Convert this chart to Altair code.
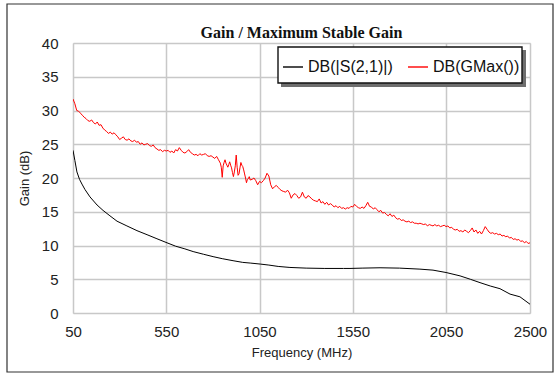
import altair as alt
import pandas as pd

# DB(|S(2,1)|) trace
s21_freq = [50, 60, 71, 85, 98, 114, 141, 179, 211, 248, 286, 339, 393, 447, 500,
            554, 600, 650, 694, 750, 801, 850, 908, 960, 1000, 1054, 1100, 1150,
            1213, 1300, 1400, 1500, 1535, 1600, 1696, 1800, 1910, 1980, 2050, 2125,
            2180, 2232, 2287, 2339, 2393, 2446, 2500]
s21_db = [24.1, 22.6, 20.9, 19.8, 19.1, 18.3, 17.2, 16.0, 15.2, 14.4, 13.6, 12.9,
          12.2, 11.6, 11.0, 10.4, 9.9, 9.5, 9.1, 8.7, 8.35, 8.05, 7.75, 7.5, 7.4,
          7.25, 7.1, 6.9, 6.75, 6.65, 6.6, 6.6, 6.6, 6.65, 6.7, 6.65, 6.5, 6.35,
          6.0, 5.5, 5.0, 4.5, 4.0, 3.6, 2.8, 2.4, 1.3]

# DB(GMax()) trace
gmax_freq = [50, 60, 70, 80, 90, 100, 110, 120, 130, 140, 150, 160, 170, 180, 190,
             200, 210, 220, 230, 240, 250, 260, 270, 280, 290, 300, 310, 320, 330,
             340, 350, 360, 370, 380, 390, 400, 410, 420, 430, 440, 450, 460, 470,
             480, 490, 500, 510, 520, 530, 540, 550, 560, 570, 580, 590, 600, 610,
             620, 630, 640, 650, 660, 670, 680, 690, 700, 710, 720, 730, 740, 750,
             760, 770, 780, 790, 800, 810, 820, 830, 840, 845, 850, 855, 860, 865,
             870, 875, 880, 885, 890, 895, 900, 905, 910, 915, 920, 925, 930, 935,
             940, 945, 950, 955, 960, 965, 970, 975, 980, 985, 990, 995, 1000, 1010,
             1020, 1030, 1040, 1050, 1060, 1070, 1080, 1090, 1100, 1110, 1120, 1130,
             1140, 1150, 1160, 1170, 1180, 1190, 1200, 1210, 1220, 1230, 1240, 1250,
             1260, 1270, 1280, 1290, 1300, 1310, 1320, 1330, 1340, 1350, 1360, 1370,
             1380, 1390, 1400, 1410, 1420, 1430, 1440, 1450, 1460, 1470, 1480, 1490,
             1500, 1510, 1520, 1530, 1540, 1550, 1560, 1570, 1580, 1590, 1600, 1610,
             1620, 1630, 1640, 1650, 1660, 1670, 1680, 1690, 1700, 1710, 1720, 1730,
             1740, 1750, 1760, 1770, 1780, 1790, 1800, 1810, 1820, 1830, 1840, 1850,
             1860, 1870, 1880, 1890, 1900, 1910, 1920, 1930, 1940, 1950, 1960, 1970,
             1980, 1990, 2000, 2010, 2020, 2030, 2040, 2050, 2060, 2070, 2080, 2090,
             2100, 2110, 2120, 2130, 2140, 2150, 2160, 2170, 2180, 2190, 2200, 2210,
             2220, 2230, 2240, 2250, 2260, 2270, 2280, 2290, 2300, 2310, 2320, 2330,
             2340, 2350, 2360, 2370, 2380, 2390, 2400, 2410, 2420, 2430, 2440, 2450,
             2460, 2470, 2480, 2490, 2500]
gmax_db = [31.7, 31.0, 30.0, 29.9, 29.6, 29.3, 29.0, 28.8, 28.5, 28.4, 28.6, 28.2,
           28.0, 28.3, 27.8, 27.9, 27.4, 27.1, 26.9, 26.6, 26.8, 26.5, 26.7, 26.4,
           26.1, 25.7, 25.9, 26.1, 25.7, 25.6, 25.8, 25.5, 25.4, 25.6, 25.3, 25.4,
           25.0, 25.2, 24.9, 25.0, 25.1, 24.8, 24.7, 24.9, 24.5, 24.3, 24.1, 24.2,
           23.9, 24.1, 24.0, 24.1, 23.8, 24.0, 23.7, 24.2, 24.0, 24.5, 24.1, 23.8,
           23.7, 23.9, 24.2, 23.8, 23.6, 23.4, 23.5, 23.3, 23.6, 23.4, 23.5, 23.6,
           23.3, 23.2, 23.3, 23.1, 22.9, 23.2, 22.7, 22.2, 21.6, 20.1, 21.8, 22.3,
           22.7, 22.2, 21.9, 21.6, 22.0, 22.4, 21.9, 21.5, 20.8, 20.2, 20.9, 21.8,
           23.4, 21.6, 20.4, 20.6, 21.5, 22.3, 21.9, 21.7, 21.2, 20.6, 20.0, 19.3,
           19.8, 19.9, 20.2, 19.7, 19.8, 20.0, 19.6, 19.0, 19.5, 19.3, 19.6, 20.0,
           20.7, 20.3, 19.0, 18.4, 18.7, 18.9, 18.6, 18.3, 18.1, 18.0, 17.9, 18.2,
           17.8, 17.0, 17.5, 17.7, 17.4, 17.0, 17.2, 17.9, 17.2, 17.0, 17.4, 17.2,
           16.9, 16.7, 16.6, 16.5, 16.9, 16.3, 16.5, 16.1, 16.4, 16.0, 16.2, 16.0,
           15.7, 15.9, 15.6, 15.8, 15.5, 15.6, 15.4, 15.6, 15.5, 15.8, 15.7, 16.1,
           15.8, 15.6, 15.5, 15.7, 15.5, 15.9, 16.4, 15.8, 15.7, 15.4, 15.6, 15.3,
           15.0, 15.2, 14.8, 14.9, 14.6, 14.4, 14.7, 14.3, 14.5, 14.1, 13.9, 14.0,
           13.7, 13.8, 13.6, 13.5, 13.6, 13.4, 13.5, 13.3, 13.3, 13.2, 13.3, 13.2,
           13.1, 13.2, 12.9, 13.1, 13.0, 12.9, 13.1, 12.9, 13.0, 12.8, 12.9, 13.0,
           12.8, 12.9, 12.6, 12.7, 12.4, 12.3, 12.4, 12.1, 12.2, 12.0, 12.3, 12.1,
           11.9, 12.2, 12.6, 12.0, 12.3, 11.8, 12.1, 11.7, 12.2, 12.8, 12.4, 12.0,
           11.8, 11.9, 11.7, 11.8, 11.6, 11.7, 11.4, 11.5, 11.3, 11.4, 11.1, 11.2,
           10.9, 11.0, 10.8, 10.9, 10.6, 10.7, 10.4, 10.6, 10.3, 10.4]

series_names = ["DB(|S(2,1)|)", "DB(GMax())"]
series_colors = ["#000000", "#ff0000"]
x_ticks = [50, 550, 1050, 1550, 2050, 2500]
y_ticks = [0, 5, 10, 15, 20, 25, 30, 35, 40]

df = pd.concat([
    pd.DataFrame({"freq": s21_freq, "db": s21_db, "series": series_names[0]}),
    pd.DataFrame({"freq": gmax_freq, "db": gmax_db, "series": series_names[1]}),
])

W, H = 457, 270
font = "Liberation Sans"
one_row = pd.DataFrame({"k": [0]})

# outer frame around the whole figure (outline only)
frame = alt.Chart(one_row).mark_rect(
    filled=False, stroke="#333333", strokeWidth=1.2
).encode(
    x=alt.value(-66), x2=alt.value(480), y=alt.value(-39), y2=alt.value(329)
)

# legend panel: drop shadow, then white box with dark outline
shadow = alt.Chart(one_row).mark_rect(fill="#6e6e6e").encode(
    x=alt.value(208), x2=alt.value(453), y=alt.value(7), y2=alt.value(44)
)
legend_box = alt.Chart(one_row).mark_rect(
    fill="white", stroke="#111111", strokeWidth=1.4
).encode(
    x=alt.value(205), x2=alt.value(449), y=alt.value(4), y2=alt.value(40)
)

axis_common = dict(ticks=False, gridColor="#c8c8c8", gridWidth=1.5, domain=False,
                   labelColor="#222222", titleColor="#222222", labelFlush=False,
                   labelFont=font, titleFont=font, titleFontWeight="normal",
                   labelFontSize=15, titleFontSize=13)

lines = alt.Chart(df).mark_line(strokeWidth=1, clip=True).encode(
    x=alt.X("freq:Q", title="Frequency (MHz)",
            scale=alt.Scale(domain=[50, 2500], nice=False, zero=False),
            axis=alt.Axis(values=x_ticks, format="d", labelPadding=11,
                          titlePadding=7, **axis_common)),
    y=alt.Y("db:Q", title="Gain (dB)",
            scale=alt.Scale(domain=[0, 40], nice=False),
            axis=alt.Axis(values=y_ticks, format="d", labelPadding=15,
                          titlePadding=10, **axis_common)),
    color=alt.Color("series:N",
                    scale=alt.Scale(domain=series_names, range=series_colors),
                    legend=alt.Legend(
                        title=None, orient="none", legendX=209, legendY=13,
                        direction="horizontal", symbolType="stroke",
                        symbolSize=400, symbolStrokeWidth=1.4,
                        labelFontSize=16, labelFont=font, labelColor="#111111",
                        columnPadding=12, labelOffset=4, padding=0,
                        labelLimit=200)),
    detail="series:N",
)

chart = alt.layer(frame, shadow, legend_box, lines).properties(
    width=W, height=H,
    title=alt.Title("Gain / Maximum Stable Gain", font="Liberation Serif",
                    fontSize=16, fontWeight="bold", color="#111111",
                    anchor="middle", frame="group", offset=8, dy=46),
    autosize=alt.AutoSizeParams(type="none"),
    padding={"left": 73, "top": 43, "right": 28, "bottom": 62},
).configure_view(
    stroke="#111111", strokeWidth=1.6
).configure(background="white")

chart.save("out.html", embed_options={"renderer": "svg", "actions": False})
